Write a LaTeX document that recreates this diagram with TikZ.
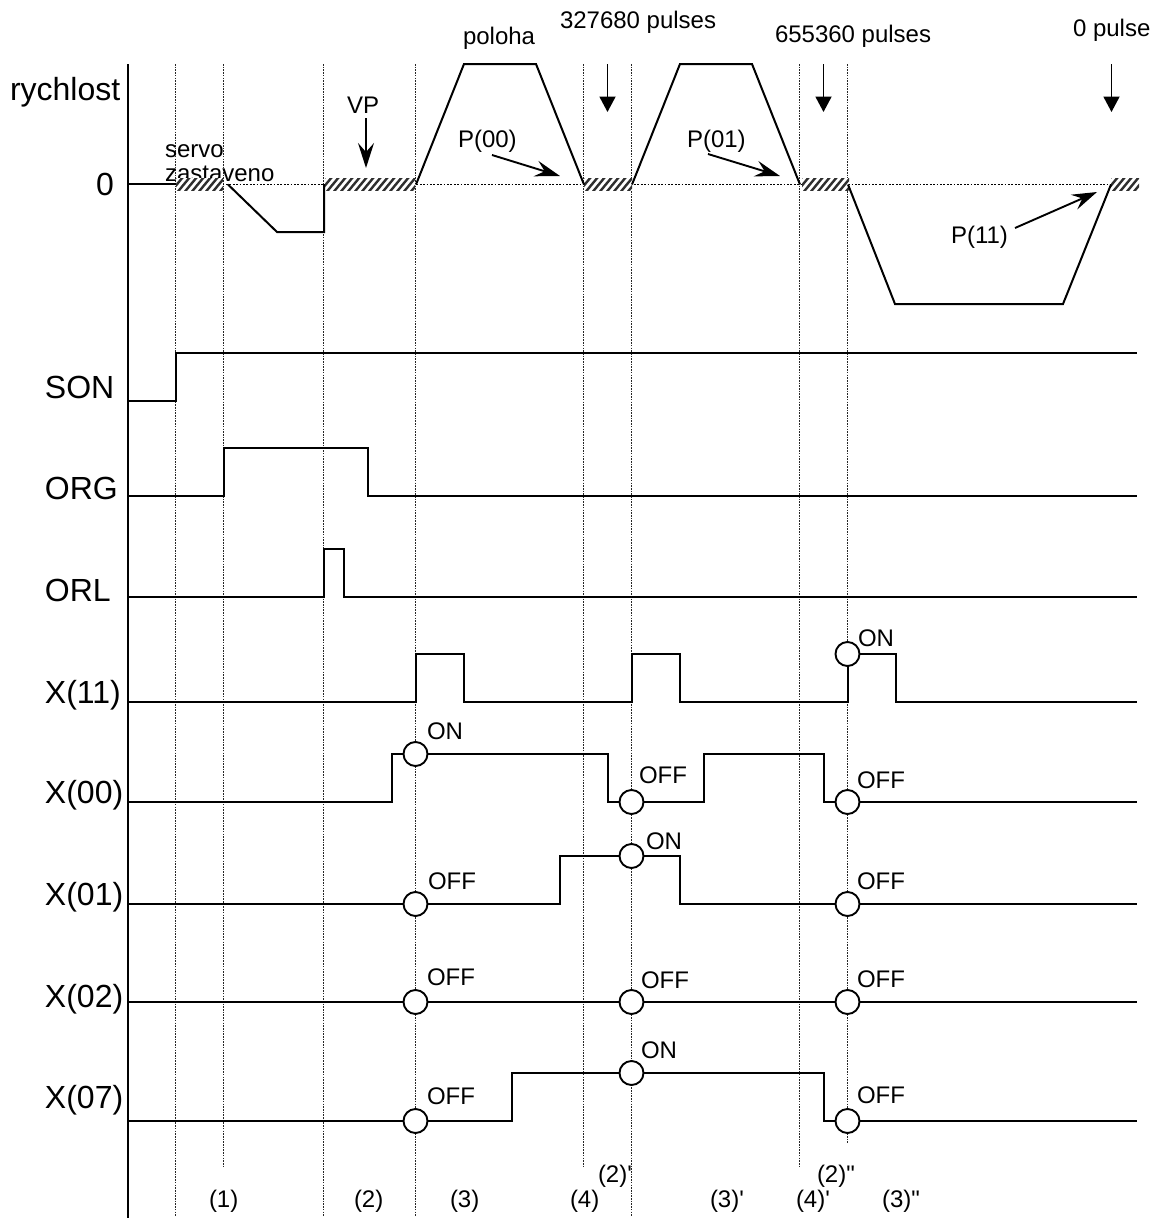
\documentclass[tikz,border=0pt]{standalone}
\usepackage{fontspec}
\setmainfont{Liberation Sans}
\newfontfamily\rawsans{Liberation Sans}
\usetikzlibrary{arrows.meta}
\tikzset{
  x=1pt,y=-1pt,
  biglabel/.style={anchor=base west,inner sep=0pt,outer sep=0pt,font=\fontsize{32}{32}\selectfont},
  smalllabel/.style={anchor=base west,inner sep=0pt,outer sep=0pt,font=\fontsize{24}{24}\selectfont},
  rawlabel/.style={anchor=base west,inner sep=0pt,outer sep=0pt,font=\rawsans\fontsize{24}{24}\selectfont},
  gridline/.style={line width=0.7pt,black!85,dash pattern=on 1.6pt off 1.1pt},
  zeroline/.style={line width=1.4pt,dash pattern=on 1.7pt off 1.7pt},
  wave/.style={line width=2pt,line join=miter},
  axisline/.style={line width=2pt},
  marker/.style={circle,draw,fill=white,line width=1.9pt,minimum size=24pt,inner sep=0pt},
  droparrow/.style={line width=1.9pt,-{Triangle[length=15.5pt,width=16pt]}},
  barbarrow/.style={line width=1.9pt,-{Stealth[length=25pt,width=16pt,inset=9pt]}},
}
\newcommand{\hatchbox}[2]{%
  \fill[white] (#1,178) rectangle (#2,190.5);
  \begin{scope}
    \clip (#1,178) rectangle (#2,190.5);
    \foreach \hk in {0,...,17}{
      \draw[line width=2.4pt,black!82] (#1+7*\hk-12,191.5) -- (#1+7*\hk,177);
    }
  \end{scope}
}
\begin{document}
\begin{tikzpicture}
\useasboundingbox (0,0) rectangle (1158,1219);
\fill[white] (0,0) rectangle (1158,1219);

% vertical guides
\foreach \gx/\gy in {175.5/1216,223.5/1168,323.5/1216,415.5/1216,583.5/1168,631.5/1216,799.5/1168,847.5/1143}{
  \draw[gridline] (\gx,64) -- (\gx,\gy);
}

% axis
\coordinate (axt) at (127.5,64);
\coordinate (axb) at (127.5,1218);
\draw[axisline] (axt) -- (axb);

% text that the hatching overlaps
\node[smalllabel] (servo) at (165,157) {servo};
\node[smalllabel] (zast) at (165,181) {zastaveno};

% speed curve
\draw[zeroline] (175,184.5) -- (1111,184.5);
\hatchbox{176}{223}
\hatchbox{325}{415}
\hatchbox{584}{632}
\hatchbox{802}{849}
\hatchbox{1111}{1139}
\draw[wave] (127.5,184) -- (176,184);
\draw[wave] (228,184.5) -- (277,232) -- (324,232) -- (324,184);
\draw[wave] (416,184.5) -- (464,64) -- (536,64) -- (584,184.5);
\draw[wave] (632,184.5) -- (680,64) -- (752,64) -- (800,184.5);
\draw[wave] (848,184.5) -- (895,304) -- (1063,304) -- (1111,184.5);

% digital signals
\draw[wave] (127.5,401) -| (176,353) -- (1137,353);
\draw[wave] (127.5,496) -| (224,448) -| (368,496) -- (1137,496);
\draw[wave] (127.5,597) -| (324,549) -| (344,597) -- (1137,597);
\draw[wave] (127.5,702) -| (416,654) -| (464,702) -| (632,654) -| (680,702) -| (848,654) -| (896,702) -- (1137,702);
\draw[wave] (127.5,802) -| (392,754) -| (608,802) -| (704,754) -| (824,802) -- (1137,802);
\draw[wave] (127.5,904) -| (560,856) -| (680,904) -- (1137,904);
\draw[wave] (127.5,1002) -- (1137,1002);
\draw[wave] (127.5,1121) -| (512,1073) -| (824,1121) -- (1137,1121);

% markers
\node[marker] (m11c) at (847.5,654) {};
\node[marker] (m00a) at (415.5,754) {};
\node[marker] (m00b) at (631.5,802) {};
\node[marker] (m00c) at (847.5,802) {};
\node[marker] (m01a) at (415.5,904) {};
\node[marker] (m01b) at (631.5,856) {};
\node[marker] (m01c) at (847.5,904) {};
\node[marker] (m02a) at (415.5,1002) {};
\node[marker] (m02b) at (631.5,1002) {};
\node[marker] (m02c) at (847.5,1002) {};
\node[marker] (m07a) at (415.5,1121) {};
\node[marker] (m07b) at (631.5,1073) {};
\node[marker] (m07c) at (847.5,1121) {};

% marker labels
\node[smalllabel] (l11c) at (858,646) {ON};
\node[smalllabel] (l00a) at (427,739) {ON};
\node[smalllabel] (l00b) at (639,783) {OFF};
\node[smalllabel] (l00c) at (857,788) {OFF};
\node[smalllabel] (l01a) at (428,889) {OFF};
\node[smalllabel] (l01b) at (646,849) {ON};
\node[smalllabel] (l01c) at (857,889) {OFF};
\node[smalllabel] (l02a) at (427,985) {OFF};
\node[smalllabel] (l02b) at (641,988) {OFF};
\node[smalllabel] (l02c) at (857,987) {OFF};
\node[smalllabel] (l07a) at (427,1104) {OFF};
\node[smalllabel] (l07b) at (641,1058) {ON};
\node[smalllabel] (l07c) at (857,1103) {OFF};

% signal names
\node[biglabel] (rych) at (10,100) {rychlost};
\node[biglabel] (zero) at (96,195) {0};
\node[biglabel] (son) at (45,398) {SON};
\node[biglabel] (org) at (45,499) {ORG};
\node[biglabel] (orl) at (45,601) {ORL};
\node[biglabel] (x11) at (45,703) {X(11)};
\node[biglabel] (x00) at (45,803) {X(00)};
\node[biglabel] (x01) at (45,905) {X(01)};
\node[biglabel] (x02) at (45,1007) {X(02)};
\node[biglabel] (x07) at (45,1108) {X(07)};

% top annotations
\node[smalllabel] (vp) at (347,113) {VP};
\node[smalllabel] (pol) at (463,44) {poloha};
\node[smalllabel] (p1) at (560,28) {327680 pulses};
\node[smalllabel] (p2) at (775,42) {655360 pulses};
\node[smalllabel] (p3) at (1073,36) {0 pulse};
\node[smalllabel] (p00) at (458,147) {P(00)};
\node[smalllabel] (p01) at (687,147) {P(01)};
\node[smalllabel] (p11) at (951,243) {P(11)};

% arrows
\coordinate (vpa) at (366,118);   \coordinate (vpb) at (366,168);
\coordinate (d1a) at (607.5,64);  \coordinate (d1b) at (607.5,112);
\coordinate (d2a) at (823.5,64);  \coordinate (d2b) at (823.5,112);
\coordinate (d3a) at (1111.5,64); \coordinate (d3b) at (1111.5,112);
\coordinate (a00a) at (492,155);  \coordinate (a00b) at (560,176);
\coordinate (a01a) at (708,154);  \coordinate (a01b) at (780,176);
\coordinate (a11a) at (1015,228); \coordinate (a11b) at (1097,192);
\draw[barbarrow] (vpa) -- (vpb);
\draw[droparrow] (d1a) -- (d1b);
\draw[droparrow] (d2a) -- (d2b);
\draw[droparrow] (d3a) -- (d3b);
\draw[barbarrow] (a00a) -- (a00b);
\draw[barbarrow] (a01a) -- (a01b);
\draw[barbarrow] (a11a) -- (a11b);

% phase labels
\node[rawlabel] (ph1) at (209,1207) {(1)};
\node[rawlabel] (ph2) at (354,1207) {(2)};
\node[rawlabel] (ph3) at (450,1207) {(3)};
\node[rawlabel] (ph4) at (570,1207) {(4)};
\node[rawlabel] (ph2p) at (598,1182) {(2)'};
\node[rawlabel] (ph3p) at (710,1207) {(3)'};
\node[rawlabel] (ph4p) at (796,1207) {(4)'};
\node[rawlabel] (ph2q) at (817,1182) {(2)"};
\node[rawlabel] (ph3q) at (882,1207) {(3)"};
\end{tikzpicture}
\end{document}
